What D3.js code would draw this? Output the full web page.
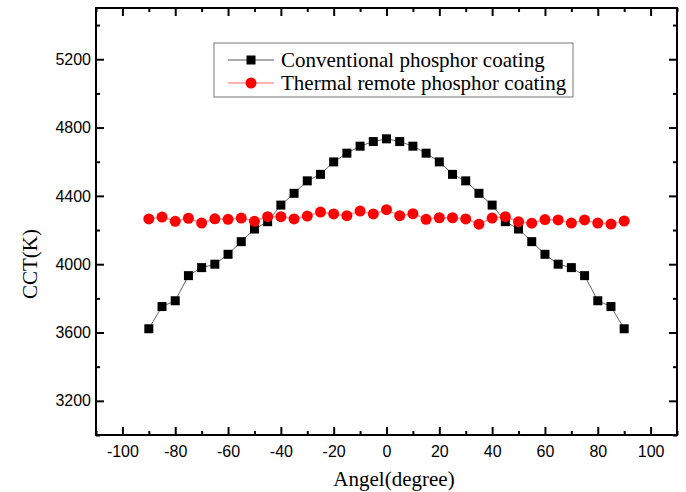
<!DOCTYPE html>
<html>
<head>
<meta charset="utf-8">
<script src="https://cdn.jsdelivr.net/npm/d3@7"></script>
<style>
  body { margin: 0; background: #fff; }
  .tick text { font-family: "Liberation Sans", Arial, sans-serif; font-size: 16px; fill: #000; }
</style>
</head>
<body>
<div id="chart"></div>
<script>
// angles in degrees
var angles = [-90,-85,-80,-75,-70,-65,-60,-55,-50,-45,-40,-35,-30,-25,-20,-15,-10,-5,
              0,5,10,15,20,25,30,35,40,45,50,55,60,65,70,75,80,85,90];

// CCT values (K)
var conventional = [3622,3752,3786,3933,3980,4000,4058,4132,4206,4249,4346,4415,4488,4526,4599,4650,4691,4718,
                    4734,4718,4691,4650,4599,4526,4488,4415,4346,4249,4206,4132,4058,4000,3980,3933,3786,3752,3622];
var thermalRemote = [4265,4276,4251,4269,4241,4266,4263,4270,4251,4278,4278,4265,4282,4305,4294,4284,4311,4294,
                     4319,4284,4296,4263,4272,4272,4265,4234,4270,4278,4249,4240,4261,4259,4241,4259,4241,4235,4253];

var seriesNames = ["Conventional phosphor coating", "Thermal remote phosphor coating"];

var xTicks = [-100,-80,-60,-40,-20,0,20,40,60,80,100];
var xMinor = [-110,-90,-70,-50,-30,-10,10,30,50,70,90,110];
var yTicks = [3200,3600,4000,4400,4800,5200];
var yMinor = [3000,3400,3800,4200,4600,5000,5400];

function drawChart() {
  //Width and height
  var w = 686, h = 492;
  var pLeft = 96, pRight = 677, pTop = 8, pBottom = 435;
  var serif = "'Liberation Serif', 'Times New Roman', serif";
  var plain = function(d) { return String(d); };

  var svg = d3.select("#chart").append("svg")
      .attr("width", w)
      .attr("height", h);

  var x = d3.scaleLinear().domain([-110, 110]).range([pLeft, pRight]);
  var y = d3.scaleLinear().domain([3000, 5500]).range([pBottom, pTop]);

  //Axes - ticks point inward, mirrored on top and right
  svg.append("g")
    .attr("transform", "translate(0," + pBottom + ")")
    .call(d3.axisBottom(x).tickValues(xTicks).tickSizeInner(-8).tickSizeOuter(0).tickPadding(11).tickFormat(plain));
  svg.append("g")
    .attr("transform", "translate(0," + pBottom + ")")
    .call(d3.axisBottom(x).tickValues(xMinor).tickSizeInner(-4).tickSizeOuter(0).tickFormat(""));
  svg.append("g")
    .attr("transform", "translate(0," + pTop + ")")
    .call(d3.axisTop(x).tickValues(xTicks).tickSizeInner(-8).tickSizeOuter(0).tickFormat(""));
  svg.append("g")
    .attr("transform", "translate(0," + pTop + ")")
    .call(d3.axisTop(x).tickValues(xMinor).tickSizeInner(-4).tickSizeOuter(0).tickFormat(""));

  svg.append("g")
    .attr("transform", "translate(" + pLeft + ",0)")
    .call(d3.axisLeft(y).tickValues(yTicks).tickSizeInner(-8).tickSizeOuter(0).tickPadding(5).tickFormat(plain));
  svg.append("g")
    .attr("transform", "translate(" + pLeft + ",0)")
    .call(d3.axisLeft(y).tickValues(yMinor).tickSizeInner(-4).tickSizeOuter(0).tickFormat(""));
  svg.append("g")
    .attr("transform", "translate(" + pRight + ",0)")
    .call(d3.axisRight(y).tickValues(yTicks).tickSizeInner(-8).tickSizeOuter(0).tickFormat(""));
  svg.append("g")
    .attr("transform", "translate(" + pRight + ",0)")
    .call(d3.axisRight(y).tickValues(yMinor).tickSizeInner(-4).tickSizeOuter(0).tickFormat(""));

  svg.selectAll(".domain").remove();
  svg.selectAll(".tick line").attr("stroke", "#000").attr("stroke-width", 2);

  //Frame
  svg.append("rect")
    .attr("x", pLeft).attr("y", pTop)
    .attr("width", pRight - pLeft).attr("height", pBottom - pTop)
    .attr("fill", "none").attr("stroke", "#000").attr("stroke-width", 2);

  //Series
  var line = d3.line()
    .x(function(d) { return x(d[0]); })
    .y(function(d) { return y(d[1]); });

  var convData = angles.map(function(a, i) { return [a, conventional[i]]; });
  var thermData = angles.map(function(a, i) { return [a, thermalRemote[i]]; });

  svg.append("path").datum(convData)
    .attr("d", line).attr("fill", "none").attr("stroke", "#666").attr("stroke-width", 1);
  svg.selectAll("rect.conv")
    .data(convData)
    .enter()
    .append("rect")
    .attr("class", "conv")
    .attr("x", function(d) { return x(d[0]) - 4.5; })
    .attr("y", function(d) { return y(d[1]) - 4.5; })
    .attr("width", 9).attr("height", 9)
    .attr("fill", "#000");

  svg.append("path").datum(thermData)
    .attr("d", line).attr("fill", "none").attr("stroke", "#ff9a9a").attr("stroke-width", 1.5);
  svg.selectAll("circle.therm")
    .data(thermData)
    .enter()
    .append("circle")
    .attr("class", "therm")
    .attr("cx", function(d) { return x(d[0]); })
    .attr("cy", function(d) { return y(d[1]); })
    .attr("r", 5.5)
    .attr("fill", "#ff0000");

  //Axis titles
  svg.append("text")
    .attr("x", 394).attr("y", 486)
    .attr("text-anchor", "middle")
    .attr("font-family", serif)
    .attr("font-size", 21)
    .text("Angel(degree)");
  svg.append("text")
    .attr("transform", "translate(37,264) rotate(-90)")
    .attr("text-anchor", "middle")
    .attr("font-family", serif)
    .attr("font-size", 21)
    .text("CCT(K)");

  //Legend
  var legend = svg.append("g");
  legend.append("rect")
    .attr("x", 214).attr("y", 43).attr("width", 359).attr("height", 54)
    .attr("fill", "#fff").attr("stroke", "#777").attr("stroke-width", 1);

  var rows = [60, 83];
  legend.append("line").attr("x1", 228).attr("x2", 274).attr("y1", rows[0]).attr("y2", rows[0])
    .attr("stroke", "#555").attr("stroke-width", 1);
  legend.append("rect").attr("x", 251 - 4.5).attr("y", rows[0] - 4.5).attr("width", 9).attr("height", 9).attr("fill", "#000");
  legend.append("line").attr("x1", 228).attr("x2", 274).attr("y1", rows[1]).attr("y2", rows[1])
    .attr("stroke", "#ff9a9a").attr("stroke-width", 1.5);
  legend.append("circle").attr("cx", 251).attr("cy", rows[1]).attr("r", 5.5).attr("fill", "#ff0000");

  legend.selectAll("text.leg")
    .data(seriesNames)
    .enter()
    .append("text")
    .attr("class", "leg")
    .attr("x", 281)
    .attr("y", function(d, i) { return rows[i] + 7; })
    .attr("font-family", serif)
    .attr("font-size", 21)
    .text(function(d) { return d; });
}

drawChart();
</script>
</body>
</html>
